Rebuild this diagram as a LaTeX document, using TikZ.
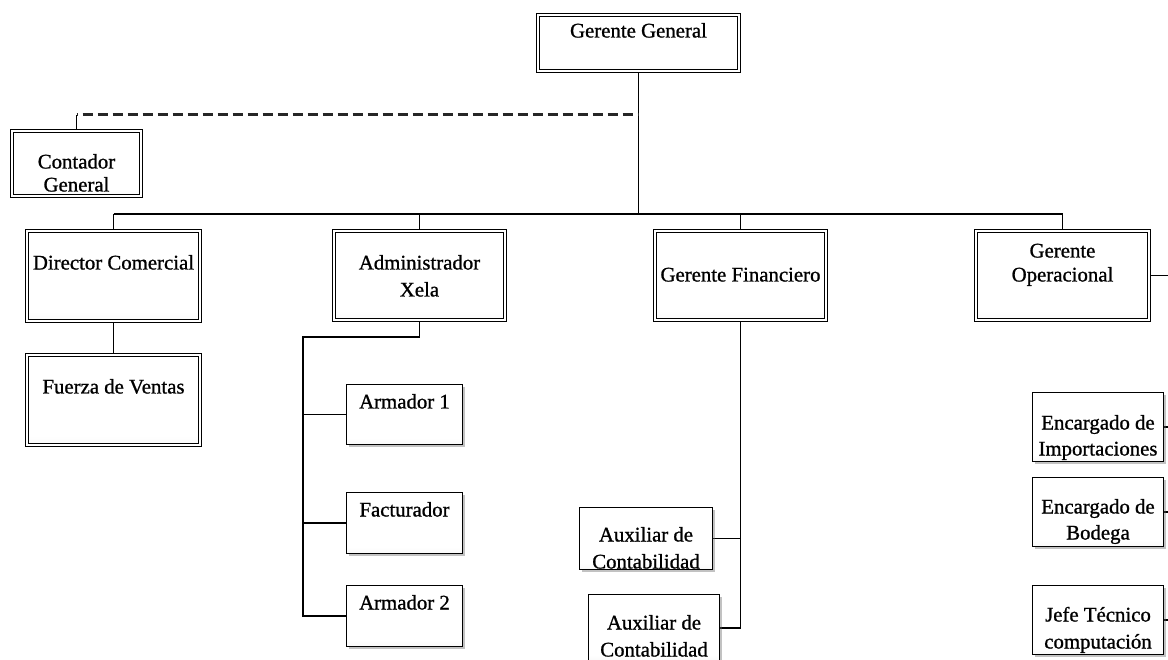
\documentclass[tikz,border=0pt]{standalone}
\usepackage{fontspec}
\setmainfont[FakeBold=1]{Liberation Serif}
\usetikzlibrary{shadows,backgrounds}
\pgfdeclareverticalshading{boxshade}{100bp}{color(0bp)=(black!14); color(30bp)=(white); color(100bp)=(white)}
\newcommand{\bx}[5]{\parbox[c][#2pt][t]{#1pt}{\fontsize{20.8}{#4}\selectfont\centering\vspace*{#3pt}\rule{0pt}{16pt}#5\par}}
\tikzset{
  boxbase/.style={inner sep=0pt, shading=boxshade,
    drop shadow={shadow xshift=2.5pt, shadow yshift=-2.5pt, opacity=.4, fill=black!60}},
  dbox/.style={boxbase, draw=black, double=white, double distance=2.2pt, line width=1.1pt},
  sbox/.style={boxbase, draw=black, line width=1.3pt},
  conn/.style={draw=black, line width=1.2pt},
  dashconn/.style={draw=black!85, line width=3pt, dash pattern=on 10pt off 5pt, dash phase=-6pt}
}
\begin{document}
\begin{tikzpicture}[x=1pt,y=-1pt]
\useasboundingbox (0,0) rectangle (1168,660);
\clip (0,0) rectangle (1168,660);

% double-bordered boxes
\node[dbox] (gg) at (638.5,43) {\bx{200.6}{55.6}{6.3}{25}{Gerente General}};
\node[dbox] (cg) at (76.5,163.5) {\bx{128.6}{64.6}{21.3}{23}{Contador\\General}};
\node[dbox] (dc) at (113.5,276) {\bx{172.6}{89.6}{22.3}{25}{Director Comercial}};
\node[dbox] (fv) at (113.5,400) {\bx{172.6}{89.6}{22.3}{25}{Fuerza de Ventas}};
\node[dbox] (ax) at (419.5,275.5) {\bx{170.6}{88.6}{22.3}{27}{Administrador\\Xela}};
\node[dbox] (gf) at (740.5,275.5) {\bx{170.6}{88.6}{34.3}{25}{Gerente Financiero}};
\node[dbox] (go) at (1062.5,275.5) {\bx{172.6}{88.6}{10.3}{24}{Gerente\\Operacional}};

% single-bordered boxes
\node[sbox] (a1) at (404.5,414.5) {\bx{115.7}{59.7}{7.85}{25}{Armador 1}};
\node[sbox] (fa) at (404.5,523) {\bx{115.7}{60.7}{7.85}{25}{Facturador}};
\node[sbox] (a2) at (404.5,616) {\bx{115.7}{60.7}{7.85}{25}{Armador 2}};
\node[sbox] (au1) at (646,538.5) {\bx{132.7}{61.7}{17.85}{27}{Auxiliar de\\Contabilidad}};
\node[sbox] (au2) at (654,628) {\bx{130.7}{66.7}{18.85}{27}{Auxiliar de\\Contabilidad}};
\node[sbox] (ei) at (1098,427) {\bx{130.7}{68.7}{20.85}{26}{Encargado de\\Importaciones}};
\node[sbox] (eb) at (1098,512) {\bx{130.7}{68.7}{19.85}{26}{Encargado de\\Bodega}};
\node[sbox] (jt) at (1098,620) {\bx{130.7}{68.7}{19.85}{27}{Jefe Técnico\\computación}};

% helper coordinates
\coordinate (busy) at (0,214);
\coordinate (dashy) at (0,115);
\coordinate (axtrunk) at (303,337);
\coordinate (edge) at (1180,0);

\begin{pgfonlayer}{background}
  % top level
  \draw[conn] (gg.south) -- (gg.south |- busy);
  \draw[conn] (dc.north |- busy) -- (go.north |- busy);
  \draw[conn] (dc.north |- busy) -- (dc.north);
  \draw[conn] (ax.north |- busy) -- (ax.north);
  \draw[conn] (gf.north |- busy) -- (gf.north);
  \draw[conn] (go.north |- busy) -- (go.north);
  % staff: contador
  \draw[conn] (cg.north) -- (cg.north |- dashy);
  \draw[dashconn] (cg.north |- dashy) -- (gg.south |- dashy);
  % director comercial
  \draw[conn] (dc.south) -- (fv.north);
  % administrador xela
  \draw[conn] (ax.south) |- (axtrunk) -- (axtrunk |- a2.west) -- (a2.west);
  \draw[conn] (axtrunk |- a1.west) -- (a1.west);
  \draw[conn] (axtrunk |- fa.west) -- (fa.west);
  % gerente financiero
  \draw[conn] (gf.south) -- (gf.south |- au2.east) -- (au2.east);
  \draw[conn] (au1.east) -- (gf.south |- au1.east);
  % gerente operacional
  \draw[conn] (go.east) -- (edge |- go.east);
  \draw[conn] (ei.east) -- (edge |- ei.east);
  \draw[conn] (eb.east) -- (edge |- eb.east);
  \draw[conn] (jt.east) -- (edge |- jt.east);
\end{pgfonlayer}
\end{tikzpicture}
\end{document}
